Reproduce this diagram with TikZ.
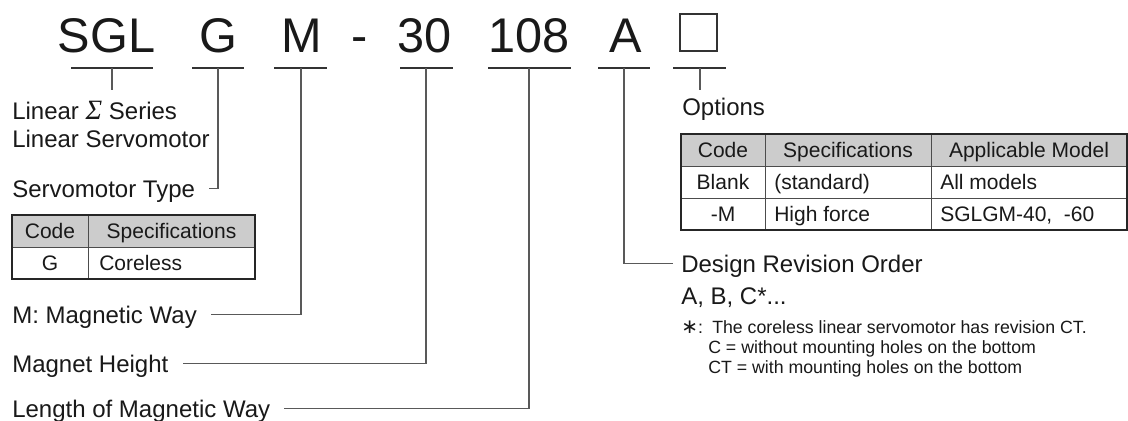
\documentclass[tikz,border=0pt]{standalone}
\usepackage{fontspec}
\setmainfont{Liberation Sans}
\newfontfamily\symfont{DejaVu Sans}
\newfontfamily\sigmafont{Liberation Serif}

\begin{document}
\begin{tikzpicture}[x=0.75pt, y=-0.75pt,
  codetxt/.style={font=\fontsize{36.5}{36.5}\selectfont, text=black!90, inner sep=0pt, anchor=base},
  lbl/.style={font=\fontsize{18}{21}\selectfont, text=black!90, inner sep=0pt, text height=12.8pt, text depth=0pt, anchor=base west},
  cell/.style={font=\fontsize{15.75}{18}\selectfont, text=black!90, inner sep=0pt, anchor=base},
  cellL/.style={cell, anchor=base west},
  notetxt/.style={font=\fontsize{13.3}{15}\selectfont, text=black!90, inner sep=0pt, anchor=base west},
  uline/.style={draw=black!80, line width=0.8pt},
  lead/.style={draw=black!65, line width=0.8pt},
  tgrid/.style={draw=black!70, line width=0.7pt},
  tframe/.style={draw=black!85, line width=1.4pt},
  thead/.style={fill=black!20}
]
  \useasboundingbox (0,0) rectangle (1128,421);
  \fill[white] (0,0) rectangle (1128,421);

  % Model code
  \node[codetxt] (sgl) at (106.5,52) {SGL};
  \node[codetxt] (g) at (218,52) {G};
  \node[codetxt] (m) at (302,52) {M};
  \node[codetxt] (dash) at (360,52) {-};
  \node[codetxt] (c30) at (424.5,52) {30};
  \node[codetxt] (c108) at (529,52) {108};
  \node[codetxt] (a) at (625.5,52) {A};
  \node[draw=black!80, line width=1.1pt, minimum size=28pt, inner sep=0pt] (optbox) at (698.5,32.5) {};

  % Underlines below each code field
  \draw[uline] (71,68) -- (153,68);
  \draw[uline] (192,68) -- (244,68);
  \draw[uline] (274,68) -- (327,68);
  \draw[uline] (400,68) -- (453,68);
  \draw[uline] (488,68) -- (571,68);
  \draw[uline] (598,68) -- (650,68);
  \draw[uline] (673,68) -- (726,68);
  \coordinate (usgl) at (112,68);
  \coordinate (ug) at (218,68);
  \coordinate (um) at (301,68);
  \coordinate (u30) at (426,68);
  \coordinate (u108) at (529,68);
  \coordinate (ua) at (624,68);
  \coordinate (ubox) at (700,68);

  % Labels
  \node[lbl] (series) at (12,119) {Linear {\sigmafont\itshape\fontsize{21}{21}\selectfont Σ} Series};
  \node[lbl] (servo) at (12,147) {Linear Servomotor};
  \node[lbl] (type) at (12,197) {Servomotor Type};
  \node[lbl] (mway) at (12,323) {M: Magnetic Way};
  \node[lbl] (mheight) at (12,372) {Magnet Height};
  \node[lbl] (mlength) at (12,417) {Length of Magnetic Way};
  \node[lbl] (opts) at (682,115) {Options};
  \node[lbl] (rev) at (681,272) {Design Revision Order};
  \node[lbl] (revlist) at (681,304) {A, B, C*...};

  % Leader lines
  \coordinate (sglfoot) at (112,90);
  \coordinate (boxfoot) at (700,90);
  \draw[lead] (usgl) -- (sglfoot);
  \draw[lead] (ug) |- ([xshift=10.5pt]type.east);
  \draw[lead] (um) |- ([xshift=10.5pt]mway.east);
  \draw[lead] (u30) |- ([xshift=10.5pt]mheight.east);
  \draw[lead] (u108) |- ([xshift=10.5pt]mlength.east);
  \draw[lead] (ua) |- ([xshift=-6pt]rev.west);
  \draw[lead] (ubox) -- (boxfoot);

  % Servomotor type table
  \fill[thead] (12,215) rectangle (255,247);
  \draw[tgrid] (12,247) -- (255,247) (88,215) -- (88,279);
  \draw[tframe] (12,215) rectangle (255,279);
  \node[cell] (tcode) at (50,238.5) {Code};
  \node[cell] (tspec) at (171.5,238.5) {Specifications};
  \node[cell] (tg) at (50,270.5) {G};
  \node[cellL] (tcoreless) at (99,270.5) {Coreless};

  % Options table
  \fill[thead] (681,134) rectangle (1127,166);
  \draw[tgrid] (681,166) -- (1127,166) (681,198) -- (1127,198)
    (765,134) -- (765,230) (931,134) -- (931,230);
  \draw[tframe] (681,134) rectangle (1127,230);
  \node[cell] (ocode) at (723,157.5) {Code};
  \node[cell] (ospec) at (848,157.5) {Specifications};
  \node[cell] (omodel) at (1029,157.5) {Applicable Model};
  \node[cell] (oblank) at (723,189.5) {Blank};
  \node[cellL] (ostd) at (774,189.5) {(standard)};
  \node[cellL] (oall) at (940,189.5) {All models};
  \node[cell] (om) at (723,221.5) {-M};
  \node[cellL] (ohigh) at (774,221.5) {High force};
  \node[cellL] (osgl) at (940,221.5) {SGLGM-40,\ \ -60};

  % Revision note
  \node[notetxt] (star) at (681,333) {{\symfont\fontsize{15}{15}\selectfont ∗}:};
  \node[notetxt] (note1) at (712,333) {The coreless linear servomotor has revision CT.};
  \node[notetxt] (note2) at (708,353) {C = without mounting holes on the bottom};
  \node[notetxt] (note3) at (708,373) {CT = with mounting holes on the bottom};
\end{tikzpicture}
\end{document}
